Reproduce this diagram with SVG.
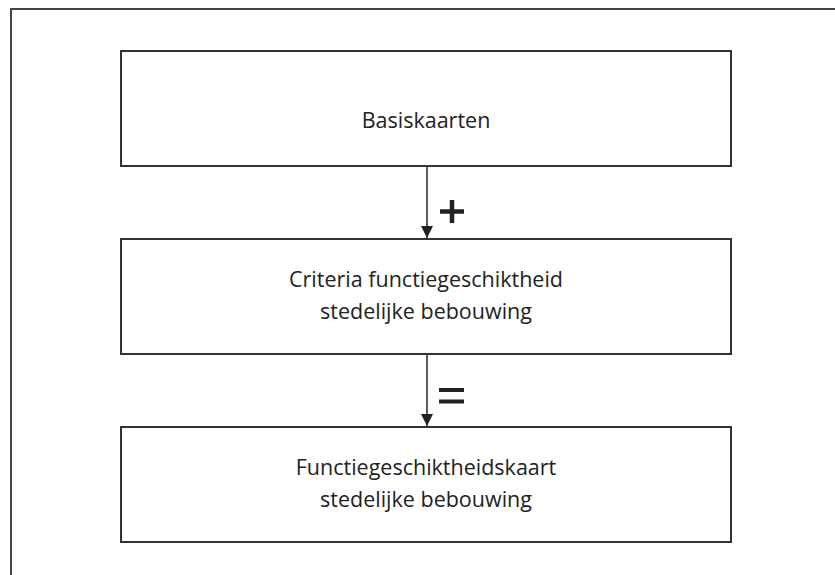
<svg xmlns="http://www.w3.org/2000/svg" width="835" height="575" viewBox="0 0 835 575">
<defs>
<style>
.box{fill:#fff;stroke:#333;stroke-width:2}
.frame{fill:none;stroke:#444;stroke-width:2}
.t{font-family:"Open Sans","Liberation Sans",sans-serif;font-size:21.5px;fill:#222;text-anchor:middle}
.c{stroke:#333;stroke-width:1.6;fill:none}
</style>
<marker id="ah" markerWidth="12" markerHeight="12" refX="10" refY="5" orient="auto" markerUnits="userSpaceOnUse" viewBox="0 0 10 10">
<path d="M0,0 L10,5 L0,10 z" fill="#222"/>
</marker>
</defs>
<rect width="835" height="575" fill="#fff"/>
<path class="frame" d="M840,9 L11,9 L11,580"/>
<g id="connectors">
<line class="c" x1="427" y1="167" x2="427" y2="238" marker-end="url(#ah)"/>
<line class="c" x1="427" y1="355" x2="427" y2="426" marker-end="url(#ah)"/>
<path d="M440,211.5 H464 M452,200 V223" stroke="#222" stroke-width="4.5" fill="none"/>
<path d="M439,390 H464 M439,401.5 H464" stroke="#222" stroke-width="4" fill="none"/>
</g>
<g id="n1">
<rect class="box" x="121" y="51" width="610" height="115"/>
<text class="t" x="426" y="128">Basiskaarten</text>
</g>
<g id="n2">
<rect class="box" x="121" y="239" width="610" height="115"/>
<text class="t" x="426" y="287">Criteria functiegeschiktheid</text>
<text class="t" x="426" y="319">stedelijke bebouwing</text>
</g>
<g id="n3">
<rect class="box" x="121" y="427" width="610" height="115"/>
<text class="t" x="426" y="475">Functiegeschiktheidskaart</text>
<text class="t" x="426" y="507">stedelijke bebouwing</text>
</g>
</svg>
